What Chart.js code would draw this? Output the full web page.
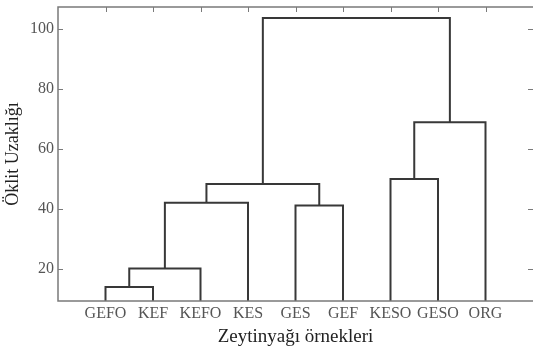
<!DOCTYPE html>
<html lang="tr">
<head>
    <meta charset="UTF-8">
    <title>Dendrogram</title>
    <style>
        body {
            margin: 0;
            background-color: #fff;
        }
        .chart-box {
            position: relative;
            width: 533px;
            height: 350px;
        }
    </style>
    <script src="https://cdn.jsdelivr.net/npm/chart.js"></script>
</head>
<body>
    <div class="chart-box">
        <canvas id="dendro"></canvas>
    </div>

    <script>
        // Yapraklar (örnekler), soldan sağa
        const leaves = ['GEFO', 'KEF', 'KEFO', 'KES', 'GES', 'GEF', 'KESO', 'GESO', 'ORG'];

        // Birleşmeler: i. birleşme yeni düğüm 9+i oluşturur
        const linkA = [0, 9, 10, 4, 11, 6, 14, 13];
        const linkB = [1, 2, 3, 5, 12, 7, 8, 15];
        const linkHeight = [14.1, 20.2, 42.1, 41.2, 48.4, 50.0, 68.9, 103.6];

        const yTicks = [20, 40, 60, 80, 100];

        // düğüm konumları ve yükseklikleri
        const nodeX = leaves.map((_, i) => i + 1);
        const nodeY = leaves.map(() => 0);
        const datasets = [];
        linkA.forEach((a, i) => {
            const b = linkB[i];
            const h = linkHeight[i];
            datasets.push({
                data: [
                    { x: nodeX[a], y: nodeY[a] },
                    { x: nodeX[a], y: h },
                    { x: nodeX[b], y: h },
                    { x: nodeX[b], y: nodeY[b] }
                ],
                showLine: true,
                borderColor: '#383838',
                borderWidth: 2,
                pointRadius: 0,
                tension: 0
            });
            nodeX.push((nodeX[a] + nodeX[b]) / 2);
            nodeY.push(h);
        });

        // çerçeve ve içe dönük çentikler (sağ kenar tuvalin dışında kalıyor)
        const framePlugin = {
            id: 'frame',
            afterDatasetsDraw(chart) {
                const { ctx, chartArea: a, scales } = chart;
                ctx.save();
                ctx.strokeStyle = '#7a7a7a';
                ctx.lineWidth = 1.5;
                ctx.beginPath();
                ctx.moveTo(a.right, a.bottom);
                ctx.lineTo(a.left, a.bottom);
                ctx.lineTo(a.left, a.top);
                ctx.lineTo(a.right, a.top);
                ctx.stroke();
                ctx.lineWidth = 1;
                ctx.beginPath();
                scales.y.ticks.forEach(t => {
                    const py = Math.round(scales.y.getPixelForValue(t.value)) + 0.5;
                    ctx.moveTo(a.left, py);
                    ctx.lineTo(a.left + 5, py);
                    ctx.moveTo(a.right, py);
                    ctx.lineTo(a.right - 5, py);
                });
                scales.x.ticks.forEach(t => {
                    const px = Math.round(scales.x.getPixelForValue(t.value)) + 0.5;
                    ctx.moveTo(px, a.top);
                    ctx.lineTo(px, a.top + 5);
                });
                ctx.stroke();
                ctx.restore();
            }
        };

        new Chart(document.getElementById('dendro'), {
            type: 'scatter',
            data: { datasets: datasets },
            options: {
                responsive: true,
                maintainAspectRatio: false,
                animation: false,
                layout: { padding: { top: 7, right: 0, left: 0, bottom: 0 } },
                plugins: {
                    legend: { display: false },
                    tooltip: { enabled: false }
                },
                scales: {
                    x: {
                        type: 'linear',
                        min: 0,
                        max: 10,
                        grid: { display: false, drawTicks: false },
                        border: { display: false },
                        afterBuildTicks: scale => {
                            scale.ticks = leaves.map((_, i) => ({ value: i + 1 }));
                        },
                        afterFit: scale => {
                            scale.height = 49;
                            scale.paddingLeft = 0;
                            scale.paddingRight = 0;
                        },
                        ticks: {
                            autoSkip: false,
                            maxRotation: 0,
                            padding: 3,
                            color: '#555',
                            font: { family: 'Liberation Serif', size: 16 },
                            callback: v => leaves[v - 1]
                        },
                        title: {
                            display: true,
                            text: 'Zeytinyağı örnekleri',
                            color: '#222',
                            padding: { top: 0, bottom: 2 },
                            font: { family: 'Liberation Serif', size: 19 }
                        }
                    },
                    y: {
                        min: 9.4,
                        max: 107.3,
                        grid: { display: false, drawTicks: false },
                        border: { display: false },
                        afterBuildTicks: scale => {
                            scale.ticks = yTicks.map(v => ({ value: v }));
                        },
                        afterFit: scale => {
                            scale.width = 58;
                            scale.paddingTop = 0;
                            scale.paddingBottom = 0;
                        },
                        ticks: {
                            padding: 4,
                            color: '#555',
                            font: { family: 'Liberation Serif', size: 16 }
                        },
                        title: {
                            display: true,
                            text: 'Öklit Uzaklığı',
                            color: '#222',
                            padding: { top: 2, bottom: 0 },
                            font: { family: 'Liberation Serif', size: 18 }
                        }
                    }
                }
            },
            plugins: [framePlugin]
        });
    </script>
</body>
</html>
